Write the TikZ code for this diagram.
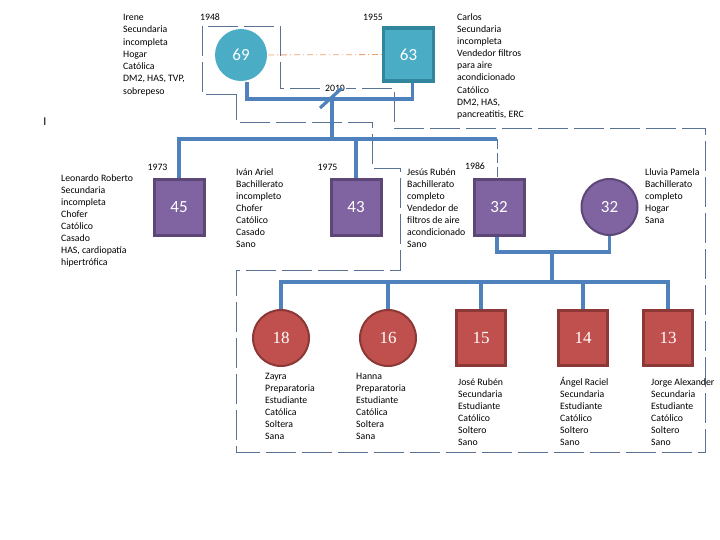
\documentclass[tikz,border=0pt]{standalone}
\usepackage{fontspec}
\setmainfont{Carlito}
\newfontfamily\kidfont{Liberation Serif}
\usetikzlibrary{calc}

\definecolor{aqua}{HTML}{4BACC6}
\definecolor{aquadark}{HTML}{31859C}
\definecolor{plum}{HTML}{8064A2}
\definecolor{plumdark}{HTML}{5C4776}
\definecolor{brick}{HTML}{C0504D}
\definecolor{brickdark}{HTML}{8C3836}
\definecolor{linkblue}{HTML}{4F81BD}
\definecolor{hhgray}{HTML}{5A7294}
\definecolor{tanline}{HTML}{EDA36E}

\begin{document}
\begin{tikzpicture}[
    x=1pt, y=-1pt,
    male/.style={rectangle, draw, line width=3pt, minimum width=50pt, minimum height=56pt, inner sep=0pt, text=white, font=\fontsize{17}{17}\selectfont},
    female/.style={circle, draw, line width=2pt, minimum size=56pt, inner sep=0pt, text=white, font=\fontsize{17}{17}\selectfont},
    kid/.style={fill=brick, draw=brickdark, font=\kidfont\fontsize{17}{17}\selectfont},
    info/.style={align=left, anchor=base west, inner sep=0pt, font=\fontsize{9.8}{12}\selectfont},
    yr/.style={anchor=base, inner sep=0pt, font=\fontsize{9.8}{12}\selectfont},
    line/.style={linkblue, line width=3.2pt},
    hh/.style={hhgray, line width=0.9pt, dash pattern=on 30pt off 6pt},
    union/.style={tanline, line width=0.8pt, dash pattern=on 6pt off 3pt on 1pt off 3pt}
]
\useasboundingbox (0,0) rectangle (720,540);

\draw[hh] (236,94) -- (202,94) -- (202,26) -- (280,26) -- (280,88) -- (394,88) -- (394,128)
    -- (705,128) -- (705,452) -- (236,452) -- (236,270) -- (400,270) -- (400,168)
    -- (372,168) -- (372,122) -- (236,122) -- cycle;

\node[female, fill=aqua, draw=none, minimum size=52pt] (irene) at (241,55) {69};
\node[male, fill=aqua, draw=aquadark, line width=3.5pt, minimum height=53pt] (carlos) at (408.5,54.5) {63};
\node[male, fill=plum, draw=plumdark] (leo) at (179,207.5) {45};
\node[male, fill=plum, draw=plumdark] (ivan) at (356,207.5) {43};
\node[male, fill=plum, draw=plumdark] (jesus) at (499,207.5) {32};
\node[female, fill=plum, draw=plumdark] (lluvia) at (609.5,207) {32};
\node[female, kid] (zayra) at (281,338) {18};
\node[female, kid] (hanna) at (388,338) {16};
\node[male, kid, minimum width=49pt, minimum height=55pt] (jose) at (481,338) {15};
\node[male, kid, minimum width=49pt, minimum height=55pt] (angel) at (583,338) {14};
\node[male, kid, minimum width=49pt, minimum height=55pt] (jorge) at (668,338) {13};

\coordinate (cut) at (332,99);
\coordinate (sib) at (332,139);
\coordinate (sibr) at (497,139);
\coordinate (pair) at (552,252);
\coordinate (kids) at (552,282);

\draw[union] (irene) -- (carlos);
\draw[line] ([xshift=6pt]irene.south) |- (cut) -| ([xshift=4pt]carlos.south);
\node[yr, fill=white, inner sep=1pt] (sepyr) at (335,91.5) {2010};
\draw[line] ([shift={(-12,9)}]cut) -- ([shift={(10,-11)}]cut);
\draw[line] (cut) -- (sib);
\draw[line] (leo.north) |- (sibr);
\draw[line] (ivan.north) -- (ivan.north |- sib);
\draw[hh, dash pattern=on 10pt off 4pt] (sibr) -- (sibr |- jesus.north);
\draw[line] ([xshift=-2pt]jesus.south) |- (pair) -| (lluvia.south);
\draw[line] (pair) -- (kids);
\draw[line] (zayra.north) |- (kids) -| (jorge.north);
\foreach \k in {hanna, jose, angel}
    \draw[line] (\k.north) -- (\k.north |- kids);

\node[yr] (y1948) at (210,20.5) {1948};
\node[yr] (y1955) at (373,20.5) {1955};
\node[yr] (y1973) at (157.5,170.5) {1973};
\node[yr] (y1975) at (327.5,170.5) {1975};
\node[yr] (y1986) at (475,169.5) {1986};
\node[anchor=base, inner sep=0pt, font=\fontsize{12}{12}\selectfont] (cursor) at (45,126) {I};

% base west = baseline of the last line
\node[info, font=\fontsize{9.8}{12.3}\selectfont] (irene-t) at (123,94.3) {Irene\\Secundaria\\incompleta\\Hogar\\Católica\\DM2, HAS, TVP,\\sobrepeso};
\node[info, font=\fontsize{9.8}{12.1}\selectfont] (carlos-t) at (457,117.3) {Carlos\\Secundaria\\incompleta\\Vendedor filtros\\para aire\\acondicionado\\Católico\\DM2, HAS,\\pancreatitis, ERC};
\node[info] (leo-t) at (61,265.5) {Leonardo Roberto\\Secundaria\\incompleta\\Chofer\\Católico\\Casado\\HAS, cardiopatía\\hipertrófica};
\node[info] (ivan-t) at (236,247.5) {Iván Ariel\\Bachillerato\\incompleto\\Chofer\\Católico\\Casado\\Sano};
\node[info] (jesus-t) at (407,247.5) {Jesús Rubén\\Bachillerato\\completo\\Vendedor de\\filtros de aire\\acondicionado\\Sano};
\node[info] (lluvia-t) at (645,223.5) {Lluvia Pamela\\Bachillerato\\completo\\Hogar\\Sana};
\node[info] (zayra-t) at (265,439.5) {Zayra\\Preparatoria\\Estudiante\\Católica\\Soltera\\Sana};
\node[info] (hanna-t) at (356,439.5) {Hanna\\Preparatoria\\Estudiante\\Católica\\Soltera\\Sana};
\node[info] (jose-t) at (458,445.5) {José Rubén\\Secundaria\\Estudiante\\Católico\\Soltero\\Sano};
\node[info] (angel-t) at (560,445.5) {Ángel Raciel\\Secundaria\\Estudiante\\Católico\\Soltero\\Sano};
\node[info] (jorge-t) at (651,445.5) {Jorge Alexander\\Secundaria\\Estudiante\\Católico\\Soltero\\Sano};
\end{tikzpicture}
\end{document}
